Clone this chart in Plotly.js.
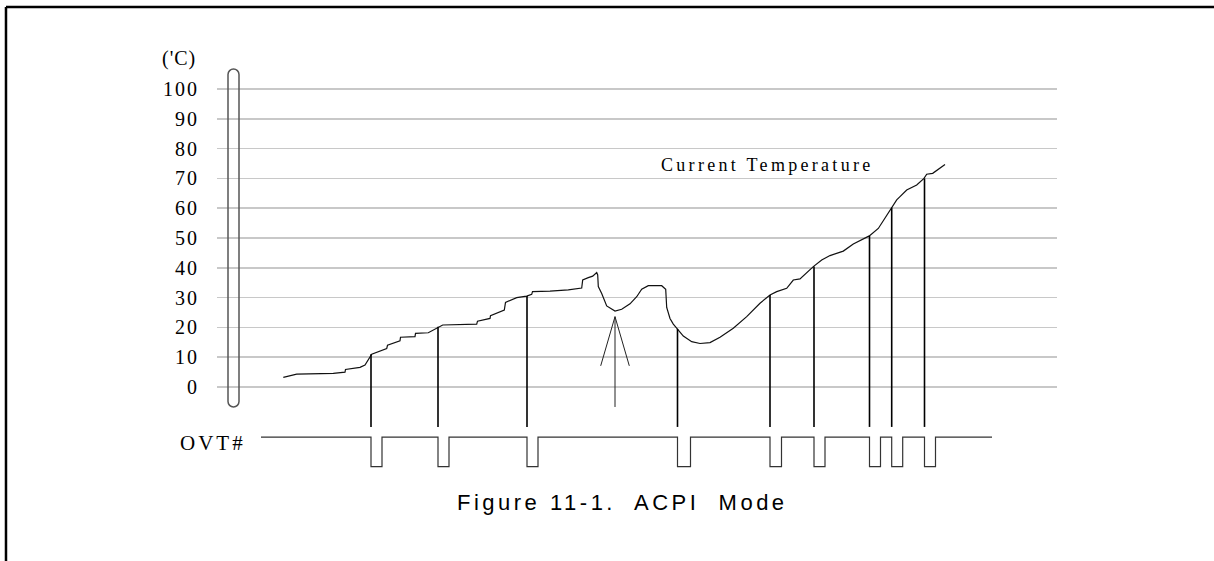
<!DOCTYPE html>
<html>
<head>
<meta charset="utf-8">
<script src="https://cdn.plot.ly/plotly-3.0.1.min.js"></script>
<style>
  html, body { margin: 0; padding: 0; background: #fff; overflow: hidden; }
  #chart { width: 1214px; height: 561px; }
</style>
</head>
<body>
<div id="chart"></div>
<script>
// ---- Data ----
// Current temperature curve (time in arbitrary units, temperature in 'C)
const curveTime = [66.3, 79.7, 116.3, 128, 128.5, 143, 148, 154.7, 169.7, 170.5, 183, 183.5, 198, 198.5,
  211.3, 221.3, 225.7, 259.7, 260.5, 273, 273.5, 287.3, 288.5, 299.7, 309.7, 314.7, 315.5, 333,
  351.3, 364.7, 365.7, 371.3, 375.7, 379.7, 380.7, 381.3, 384.7, 389.7, 398, 404.7, 413, 419.7,
  424.7, 431.3, 444.7, 448.7, 449.7, 453, 456.3, 460.3, 466.3, 474.7, 483, 493, 503, 516.3,
  529.7, 543, 553, 559.7, 569.7, 576.3, 583, 596.3, 604.7, 613, 626.3, 636.3, 652.3, 661.3,
  664.7, 669.7, 674.7, 679.7, 683, 689.7, 699.7, 707, 709.7, 715.7, 728];
const curveTemp = [3.25, 4.3, 4.6, 5.0, 5.9, 6.6, 7.4, 11.0, 12.9, 14.0, 15.5, 16.7, 16.9, 18.0,
  18.2, 20.2, 20.8, 21.1, 22.1, 23.0, 23.9, 25.8, 28.4, 30.0, 30.5, 31.1, 32.0, 32.2,
  32.6, 33.2, 35.9, 36.7, 37.2, 38.4, 37.6, 33.7, 31.4, 27.2, 25.5, 26.1, 27.9, 30.3,
  32.8, 34.0, 34.0, 32.8, 26.7, 23.0, 21.1, 19.5, 17.1, 15.2, 14.6, 14.9, 16.7, 19.7,
  23.6, 28.1, 30.9, 32.0, 33.1, 35.9, 36.3, 40.4, 42.6, 44.1, 45.6, 48.0, 50.7, 53.2,
  54.9, 57.7, 60.2, 62.8, 63.9, 66.1, 67.8, 70.0, 71.4, 71.7, 74.7];

// OVT# assertion events: time, temperature at the crossing, pulse length
const eventTime  = [154, 221, 310, 460.5, 553, 597, 652.5, 674.7, 707.5];
const eventTemp  = [11.0, 20.2, 30.5, 19.5, 30.9, 40.4, 50.7, 60.2, 70.0];
const pulseWidth = [11, 11, 11, 13, 11.5, 11, 11, 11, 11];
const ovtStart = 44, ovtEnd = 775;

// Axis ticks
const tickValues = [0, 10, 20, 30, 40, 50, 60, 70, 80, 90, 100];
const tickLabels = ['0', '10', '20', '30', '40', '50', '60', '70', '80', '90', '100'];

// Arrow pointing at the local minimum
const arrowTime = 398, arrowTipTemp = 23.6;

// ---- Layout constants (positions in axis units) ----
const OVT_HIGH = -16.8, OVT_LOW = -26.7, EVENT_BOTTOM = -13.4;

// Event vertical lines
const evX = [], evY = [];
eventTime.forEach((t, i) => { evX.push(t, t, null); evY.push(eventTemp[i], EVENT_BOTTOM, null); });

// OVT# signal
const sigX = [ovtStart], sigY = [OVT_HIGH];
eventTime.forEach((t, i) => {
  const t2 = t + pulseWidth[i];
  sigX.push(t, t, t2, t2); sigY.push(OVT_HIGH, OVT_LOW, OVT_LOW, OVT_HIGH);
});
sigX.push(ovtEnd); sigY.push(OVT_HIGH);

const traces = [
  { x: curveTime, y: curveTemp, mode: 'lines', line: { color: '#111', width: 1.2 }, hoverinfo: 'skip', showlegend: false },
  { x: evX, y: evY, mode: 'lines', line: { color: '#000', width: 1.6 }, hoverinfo: 'skip', showlegend: false },
  { x: sigX, y: sigY, mode: 'lines', line: { color: '#333', width: 1.2 }, hoverinfo: 'skip', showlegend: false }
];

// capsule (rounded bar) next to the axis
const cx0 = 11, cx1 = 22, cxm = 16.5, capTop = 106.71, capBot = -6.71, ry = 1.846, kx = 3.04, ky = 1.02;
const capsule = `M ${cx0},${capBot + ry} L ${cx0},${capTop - ry} C ${cx0},${capTop - ry + ky} ${cxm - kx},${capTop} ${cxm},${capTop} ` +
  `C ${cxm + kx},${capTop} ${cx1},${capTop - ry + ky} ${cx1},${capTop - ry} L ${cx1},${capBot + ry} ` +
  `C ${cx1},${capBot + ry - ky} ${cxm + kx},${capBot} ${cxm},${capBot} C ${cxm - kx},${capBot} ${cx0},${capBot + ry - ky} ${cx0},${capBot + ry} Z`;

const headBase = arrowTipTemp - 16.5;
const shapes = [
  // frame (top and left edges only)
  { type: 'line', xref: 'paper', yref: 'paper', x0: -0.2512, x1: 1.1869, y0: 0.9875, y1: 0.9875, line: { color: '#000', width: 2.5 } },
  { type: 'line', xref: 'paper', yref: 'paper', x0: -0.2512, x1: -0.2512, y0: -0.02, y1: 0.9875, line: { color: '#000', width: 2.5 } },
  // capsule
  { type: 'path', xref: 'x', yref: 'y', path: capsule, line: { color: '#555', width: 1.5 }, fillcolor: 'rgba(0,0,0,0)' },
  // arrow
  { type: 'line', xref: 'x', yref: 'y', x0: arrowTime, x1: arrowTime, y0: arrowTipTemp - 30.3, y1: arrowTipTemp, line: { color: '#222', width: 1 } },
  { type: 'line', xref: 'x', yref: 'y', x0: arrowTime, x1: arrowTime - 14.3, y0: arrowTipTemp, y1: headBase, line: { color: '#222', width: 1 } },
  { type: 'line', xref: 'x', yref: 'y', x0: arrowTime, x1: arrowTime + 14.3, y0: arrowTipTemp, y1: headBase, line: { color: '#222', width: 1 } }
];

const serif = 'Liberation Serif, Times New Roman, serif';
const sp = (s, t) => `<span style="letter-spacing:${s}px">${t}</span>`;

const annotations = [
  { xref: 'paper', yref: 'y', x: -0.0226, y: 110.4, xanchor: 'right', yanchor: 'middle', showarrow: false,
    text: sp(1, "('C)"), font: { family: serif, size: 20, color: '#000' } },
  { xref: 'x', yref: 'y', x: 31, y: -18.8, xanchor: 'right', yanchor: 'middle', showarrow: false,
    text: sp(3, 'OVT#'), font: { family: serif, size: 21, color: '#000' } },
  { xref: 'x', yref: 'y', x: 442, y: 74.5, xanchor: 'left', yanchor: 'middle', showarrow: false,
    text: sp(3.3, 'Current Temperature'), font: { family: serif, size: 18, color: '#000' } },
  { xref: 'x', yref: 'y', x: 405.5, y: -38.6, xanchor: 'center', yanchor: 'middle', showarrow: false,
    text: sp(3.5, 'Figure 11-1.  ACPI  Mode'), font: { family: 'Liberation Sans, Arial, sans-serif', size: 22, color: '#000' } }
];

const layout = {
  width: 1214, height: 561,
  margin: { l: 217, r: 157, t: 0, b: 0, pad: 0 },
  paper_bgcolor: '#fff', plot_bgcolor: '#fff',
  showlegend: false,
  xaxis: { range: [0, 840], showgrid: false, zeroline: false, showline: false, showticklabels: false, ticks: '', fixedrange: true },
  yaxis: {
    range: [-58.389, 129.866], tickmode: 'array', tickvals: tickValues,
    ticktext: tickLabels.map(t => sp(2, t)),
    showgrid: true, gridcolor: '#c8c8c8', gridwidth: 1.5, zeroline: false, showline: false,
    ticks: 'outside', ticklen: 13, tickcolor: 'rgba(0,0,0,0)',
    tickfont: { family: serif, size: 20, color: '#000' }, fixedrange: true
  },
  shapes: shapes,
  annotations: annotations
};

Plotly.newPlot('chart', traces, layout, { displayModeBar: false, staticPlot: true });
</script>
</body>
</html>
